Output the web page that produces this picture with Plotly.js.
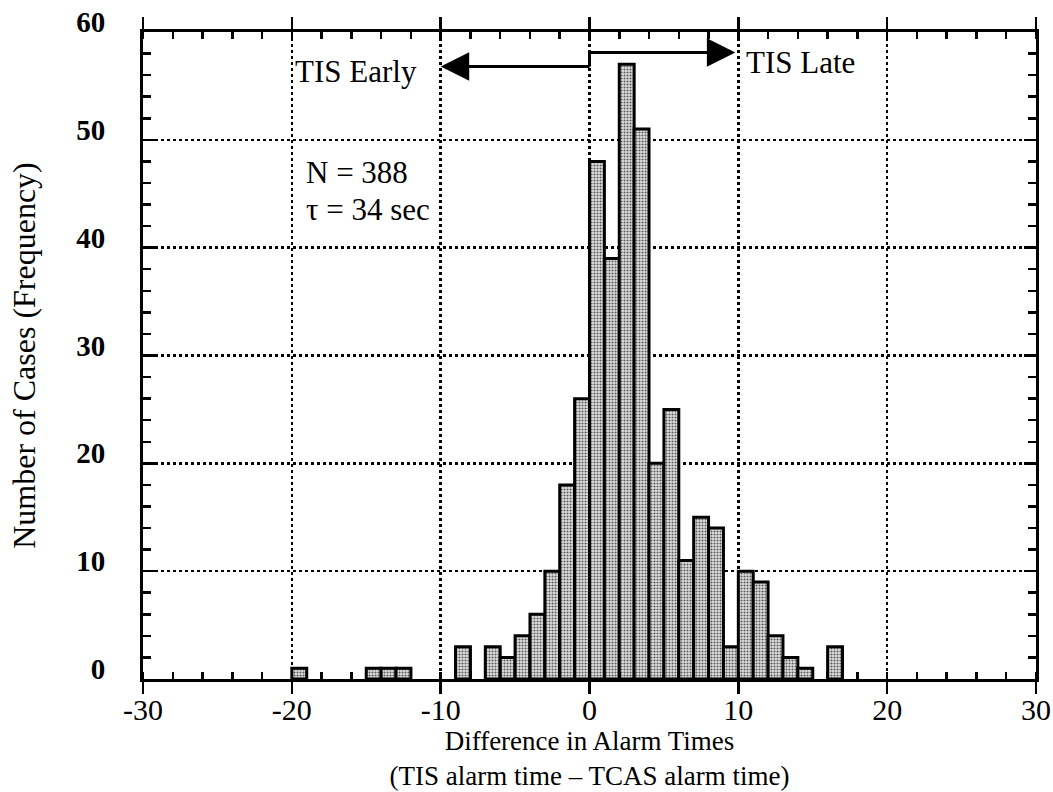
<!DOCTYPE html>
<html>
<head>
<meta charset="utf-8">
<script src="https://cdn.plot.ly/plotly-3.0.1.min.js"></script>
<style>html,body{margin:0;padding:0;background:#fff;}#chart{width:1053px;height:792px;}</style>
</head>
<body>
<div id="chart"></div>
<script>
// Histogram bins (left edge, width 1 sec) and counts
const binStart = [-20, -15, -14, -13, -9, -7, -6, -5, -4, -3, -2, -1, 0, 1, 2, 3, 4, 5, 6, 7, 8, 9, 10, 11, 12, 13, 14, 16];
const counts   = [  1,   1,   1,   1,  3,  3,  2,  4,  6, 10, 18, 26, 48, 39, 57, 51, 20, 25, 11, 15, 14, 3, 10,  9,  4,  2,  1,  3];
const xTickVals = [-30, -20, -10, 0, 10, 20, 30];
const yTickVals = [0, 10, 20, 30, 40, 50, 60];
const labelN = "N = 388";
const labelTau = "τ = 34 sec";

const binCenter = binStart.map(v => v + 0.5);
const serif = "Liberation Serif, Times New Roman, serif";

const trace = {
  type: "bar",
  x: binCenter,
  y: counts,
  width: 1,
  marker: {
    color: "#d4d4d4",
    line: {color: "#000", width: 3},
    pattern: {shape: ".", fgcolor: "#5a5a5a", bgcolor: "#e0e0e0", size: 3, solidity: 0.4, fillmode: "replace"}
  },
  hoverinfo: "x+y"
};

const layout = {
  width: 1053, height: 792,
  margin: {l: 143, r: 17, t: 32, b: 113},
  paper_bgcolor: "#fff", plot_bgcolor: "#fff",
  font: {family: serif, color: "#000", size: 26},
  showlegend: false,
  bargap: 0,
  xaxis: {
    range: [-30, 30],
    tickvals: xTickVals,
    ticktext: xTickVals.map(String),
    ticks: "outside", ticklen: 12, tickwidth: 2.5, tickcolor: "#000",
    showline: true, linecolor: "#000", linewidth: 3, mirror: "allticks",
    showgrid: true, gridcolor: "#000", gridwidth: 2.5, griddash: "dot",
    zeroline: false,
    tickfont: {family: serif, size: 30},
    ticklabelstandoff: -10,
    minor: {dtick: 2, tick0: 0, ticks: "inside", ticklen: 7, tickwidth: 2.5, tickcolor: "#000", showgrid: false},
    title: {text: "Difference in Alarm Times<br>(TIS alarm time – TCAS alarm time)", font: {family: serif, size: 27}, standoff: 2}
  },
  yaxis: {
    range: [0, 60],
    tickvals: yTickVals,
    ticktext: yTickVals.map(s => "<b>" + s + "</b>"),
    ticks: "inside", ticklen: 12, tickwidth: 2.5, tickcolor: "#000",
    showline: true, linecolor: "#000", linewidth: 3, mirror: "allticks",
    showgrid: true, gridcolor: "#000", gridwidth: 2.5, griddash: "dot",
    zeroline: false,
    tickfont: {family: serif, size: 29},
    ticklabelstandoff: 29,
    ticklabelshift: -10,
    minor: {dtick: 2, tick0: 0, ticks: "inside", ticklen: 8, tickwidth: 2.5, tickcolor: "#000", showgrid: false},
    title: {text: "Number of Cases (Frequency)", font: {family: serif, size: 32}, standoff: 32}
  },
  shapes: [
    {type: "line", xref: "x", yref: "y", x0: 0, x1: 0, y0: 56.8, y1: 58.1, line: {color: "#000", width: 3}},
    {type: "line", xref: "x", yref: "y", x0: 0, x1: -8.5, y0: 56.8, y1: 56.8, line: {color: "#000", width: 3}},
    {type: "line", xref: "x", yref: "y", x0: 0, x1: 8.3, y0: 58.1, y1: 58.1, line: {color: "#000", width: 3}}
  ],
  annotations: [
    {x: -10, y: 56.8, ax: -8, ay: 56.8, xref: "x", yref: "y", axref: "x", ayref: "y", text: "", showarrow: true, arrowhead: 2, arrowsize: 1.9, arrowwidth: 3, arrowcolor: "#000", standoff: 0},
    {x: 9.8, y: 58.1, ax: 7.8, ay: 58.1, xref: "x", yref: "y", axref: "x", ayref: "y", text: "", showarrow: true, arrowhead: 2, arrowsize: 1.9, arrowwidth: 3, arrowcolor: "#000", standoff: 0},
    {x: -15.7, y: 56.3, xref: "x", yref: "y", text: "TIS Early", showarrow: false, font: {family: serif, size: 31}, xanchor: "center", yanchor: "middle"},
    {x: 10.4, y: 57.2, xref: "x", yref: "y", text: "TIS Late", showarrow: false, font: {family: serif, size: 31}, xanchor: "left", yanchor: "middle"},
    {x: -19.2, y: 47.0, xref: "x", yref: "y", text: labelN, showarrow: false, font: {family: serif, size: 31}, xanchor: "left", yanchor: "middle"},
    {x: -19.2, y: 43.5, xref: "x", yref: "y", text: labelTau, showarrow: false, font: {family: serif, size: 31}, xanchor: "left", yanchor: "middle"}
  ]
};

Plotly.newPlot("chart", [trace], layout, {displayModeBar: false, staticPlot: true});
</script>
</body>
</html>
